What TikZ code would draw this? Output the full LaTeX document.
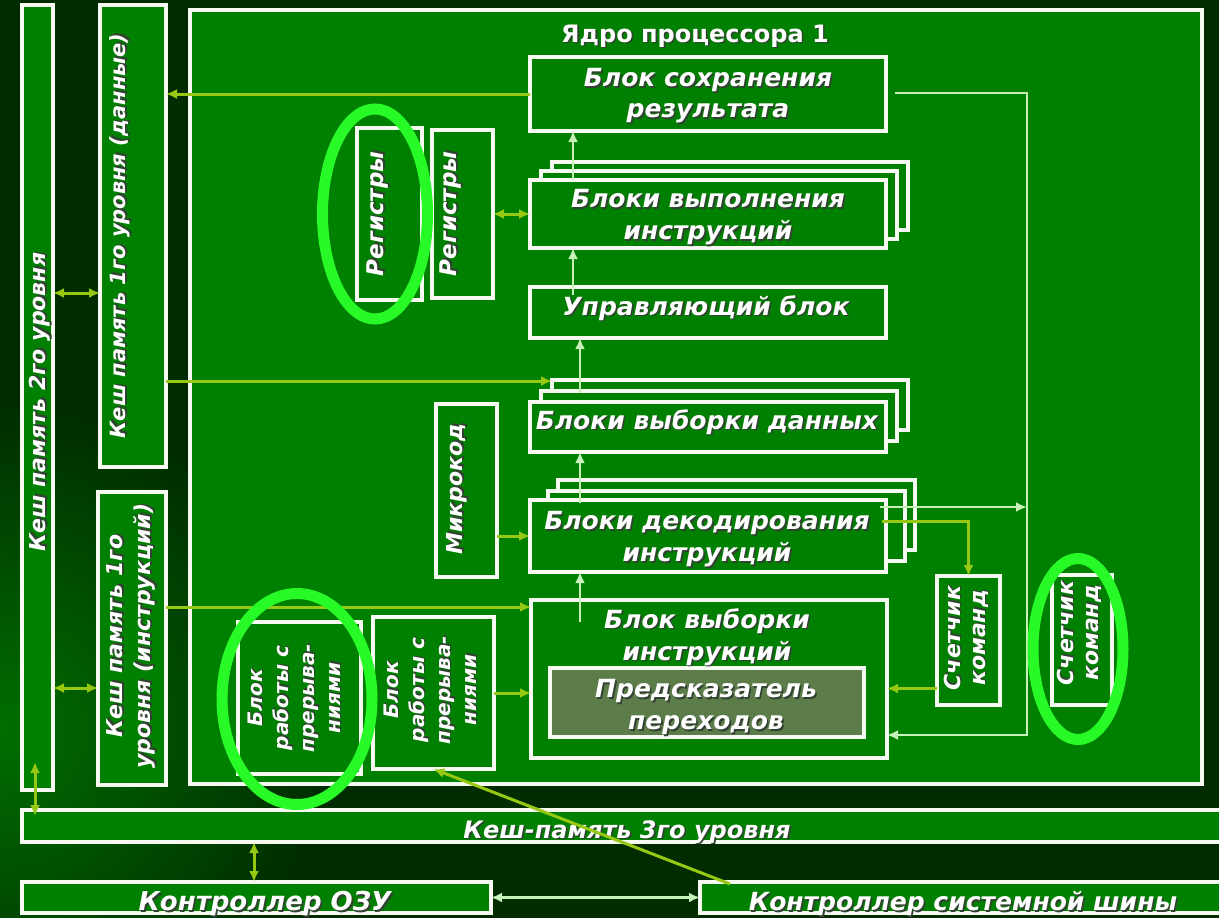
\documentclass[tikz,border=0pt]{standalone}
\usepackage{fontspec}
\setmainfont{DejaVu Sans}
\usetikzlibrary{arrows.meta,calc,shapes.geometric}

\definecolor{bgdark}{RGB}{0,44,0}
\definecolor{bglight}{RGB}{0,110,0}
\definecolor{boxgreen}{RGB}{0,128,0}
\definecolor{predfill}{RGB}{92,124,74}
\definecolor{edge}{RGB}{246,250,240}
\definecolor{ygreen}{RGB}{150,200,20}
\definecolor{pgreen}{RGB}{200,240,185}
\definecolor{lime}{RGB}{40,250,40}
\definecolor{shadowc}{RGB}{50,66,50}

% white text with a small dark drop shadow
\newcommand\sh[1]{\makebox[0pt][l]{\kern1.6pt\raisebox{-1.6pt}[0pt][0pt]{\textcolor{shadowc}{#1}}}#1}

% \blk[style]{name}{x1}{y1}{x2}{y2}: box between two corners
\newcommand\blk[6][]{\node[box,#1,minimum width={(#5-#3)*1pt},minimum height={(#6-#4)*1pt}] (#2) at ({(#3+#5)/2},{(#4+#6)/2}) {};}

\tikzset{
  box/.style={draw=edge, line width=4pt, fill=boxgreen, rectangle, inner sep=0pt, outer sep=0pt},
  lbl/.style={text=white, align=center, inner sep=0pt},
  fs/.style 2 args={font=\bfseries\itshape\fontsize{#1}{#2}\selectfont},
  vl/.style={rotate=90},
  tip/.tip={Latex[length=11pt,width=10pt]},
  ya/.style={draw=ygreen, line width=3pt, -tip},
  yb/.style={draw=ygreen, line width=3pt, tip-tip},
  pa/.style={draw=pgreen, line width=2.6pt, -tip},
  pb/.style={draw=pgreen, line width=2.6pt, tip-tip},
  hl/.style={draw=lime, line width=11pt, ellipse, inner sep=0pt, outer sep=0pt}
}

\begin{document}
\begin{tikzpicture}[x=1pt,y=-1pt]
\useasboundingbox (0,0) rectangle (1219,918);

% background
\fill[bgdark] (0,0) rectangle (1219,918);
\begin{scope}
  \clip (0,0) rectangle (1219,918);
  \shade[inner color=bglight, outer color=bgdark] (0,730) circle (330pt);
\end{scope}

% caches outside the core
\blk{l2}{22}{5}{53}{790}
\blk{l1d}{100}{5}{166}{467}
\blk{l1i}{98}{492}{166}{785}

% processor core
\blk{core}{190}{10}{1202}{784}

% pipeline blocks
\blk{save}{530}{57}{886}{131}
\blk{execC}{552}{162}{908}{230}
\blk{execB}{541}{171}{897}{239}
\blk{exec}{530}{180}{886}{248}
\blk{ctrl}{530}{287}{886}{338}
\blk{dfetchC}{552}{380}{908}{430}
\blk{dfetchB}{541}{391}{897}{441}
\blk{dfetch}{530}{402}{886}{452}
\blk{decodeC}{558}{480}{915}{550}
\blk{decodeB}{548}{491}{905}{561}
\blk{decode}{530}{500}{886}{572}
\blk{ifetch}{531}{600}{887}{758}
\blk[fill=predfill]{bp}{550}{668}{864}{737}

% side blocks
\blk{reg1}{357}{128}{422}{300}
\blk{reg2}{432}{130}{493}{298}
\blk{micro}{436}{404}{497}{577}
\blk{irq1}{238}{622}{361}{774}
\blk{irq2}{373}{617}{494}{769}
\blk{pc1}{937}{576}{1000}{705}
\blk{pc2}{1052}{575}{1112}{705}

% shared blocks at the bottom
\blk{l3}{22}{810}{1240}{842}
\blk{mem}{22}{882}{491}{913}
\blk{sys}{700}{882}{1240}{913}

% labels
\node[lbl, font=\bfseries\fontsize{24}{28}\selectfont] (coret) at (695,36) {\sh{Ядро процессора 1}};
\node[lbl, fs={25}{31}] (savet) at (708,96) {\sh{Блок сохранения}\\\sh{результата}};
\node[lbl, fs={25}{32}] (exect) at (708,217) {\sh{Блоки выполнения}\\\sh{инструкций}};
\node[lbl, fs={25}{32}] (ctrlt) at (706,308) {\sh{Управляющий блок}};
\node[lbl, fs={25}{32}] (dfetcht) at (707,422) {\sh{Блоки выборки данных}};
\node[lbl, fs={25}{32}] (decodet) at (707,539) {\sh{Блоки декодирования}\\\sh{инструкций}};
\node[lbl, fs={25}{32}] (ifetcht) at (707,637) {\sh{Блок выборки}\\\sh{инструкций}};
\node[lbl, fs={25}{32}] (bpt) at (706,707) {\sh{Предсказатель}\\\sh{переходов}};

\node[lbl, fs={22}{28}, vl] (l2t) at (40,402) {\sh{Кеш память 2го уровня}};
\node[lbl, fs={21}{28}, vl] (l1dt) at (120,236) {\sh{Кеш память 1го уровня (данные)}};
\node[lbl, fs={22}{28}, vl] (l1it) at (131,636) {\sh{Кеш память 1го}\\\sh{уровня (инструкций)}};
\node[lbl, fs={23}{28}, vl] (reg1t) at (378,214) {\sh{Регистры}};
\node[lbl, fs={23}{28}, vl] (reg2t) at (451,214) {\sh{Регистры}};
\node[lbl, fs={22}{28}, vl] (microt) at (457,489) {\sh{Микрокод}};
\node[lbl, fs={22}{25}, vl] (pc1t) at (966,638) {\sh{Счетчик}\\\sh{команд}};
\node[lbl, fs={22}{25}, vl] (pc2t) at (1079,633) {\sh{Счетчик}\\\sh{команд}};
\node[lbl, fs={20}{26}, vl] (irq1t) at (294,698) {\sh{Блок}\\\sh{работы с}\\\sh{прерыва-}\\\sh{ниями}};
\node[lbl, fs={20}{26}, vl] (irq2t) at (430,690) {\sh{Блок}\\\sh{работы с}\\\sh{прерыва-}\\\sh{ниями}};

\node[lbl, fs={24}{30}] (l3t) at (627,832) {\sh{Кеш-память 3го уровня}};
\node[lbl, fs={26}{30}] (memt) at (265,904) {\sh{Контроллер ОЗУ}};
\node[lbl, fs={25}{30}] (syst) at (963,904) {\sh{Контроллер системной шины}};

% helper coordinates for connector rails
\coordinate (v1) at (573,0);
\coordinate (v2) at (580,0);
\coordinate (v3) at (35,0);
\coordinate (v4) at (254,0);
\coordinate (h1) at (0,381);
\coordinate (h2) at (0,607);
\coordinate (h3) at (0,293);
\coordinate (h4) at (0,688);
\coordinate (bus1) at (1027,93);
\coordinate (bus2) at (1027,735);
\coordinate (decout) at (880,507);
\coordinate (decpc) at (882,521);
\coordinate (pcout) at ($(pc1.west)+(0,48)$);

% pipeline flow (upwards)
\draw[pa] (exec.north -| v1) -- (save.south -| v1);
\draw[pa] ($(ctrl.north -| v1)+(0,8)$) -- (exec.south -| v1);
\draw[pa] ($(dfetch.north -| v2)+(0,-9)$) -- (ctrl.south -| v2);
\draw[pa] ($(decode.north -| v2)+(0,3)$) -- (dfetch.south -| v2);
\draw[pa] ($(ifetch.north -| v2)+(0,22)$) -- (decode.south -| v2);

% result write-back loop
\draw[pa] ($(save.east)+(9,-1)$) -- (bus1) -- (bus2) -- (bus2 -| ifetch.east);
\draw[pa] (decout) -- (decout -| bus1);

% instruction counter
\draw[ya] (decpc) -| (pc1.north);
\draw[ya] (pcout) -- (pcout -| ifetch.east);

% caches and side blocks
\draw[ya] (save.west) -- (save.west -| l1d.east);
\draw[ya] (l1d.east |- h1) -- (dfetchC.west |- h1);
\draw[ya] (l1i.east |- h2) -- (ifetch.west |- h2);
\draw[ya] (micro.east |- decode.west) -- (decode.west);
\draw[yb] (reg2.east) -- (exec.west);
\draw[ya] (irq2.east) -- (irq2.east -| ifetch.west);
\draw[yb] (l2.east |- h3) -- (l1d.west |- h3);
\draw[yb] (l2.east |- h4) -- (l1i.west |- h4);
\draw[yb] ($(l2.south -| v3)+(0,-28)$) -- ($(l3.north -| v3)+(0,6)$);
\draw[yb] (l3.south -| v4) -- (mem.north -| v4);
\draw[pb] (mem.east) -- (sys.west);
\draw[ya] ($(sys.north west)+(30,2)$) -- (irq2.south);

% highlight rings
\node[hl, minimum width=105pt, minimum height=210pt] (hlreg) at (375,214) {};
\node[hl, minimum width=150pt, minimum height=211pt] (hlirq) at (297,699) {};
\node[hl, minimum width=90pt, minimum height=181pt] (hlpc) at (1078,649) {};
\end{tikzpicture}
\end{document}
